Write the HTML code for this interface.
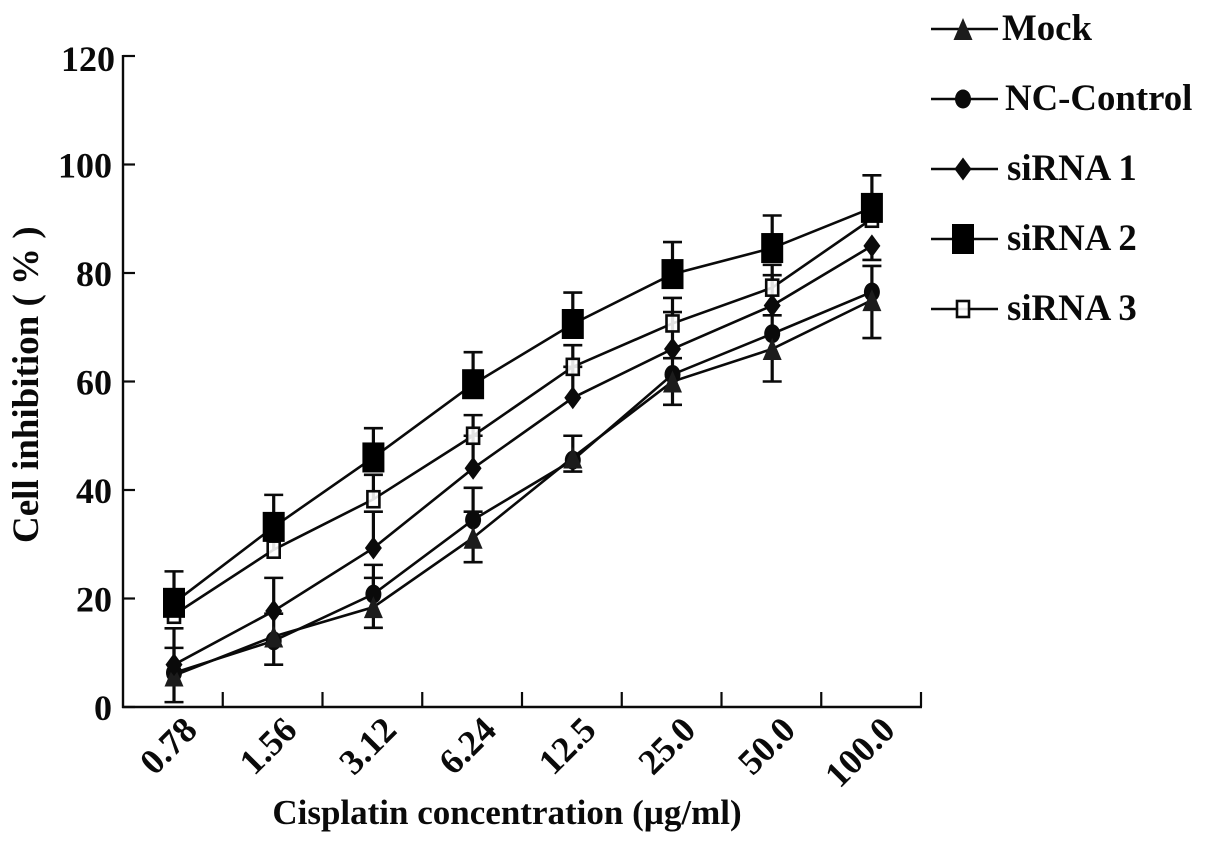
<!DOCTYPE html>
<html lang="en"><head><meta charset="utf-8"><title>Cell inhibition vs cisplatin concentration</title>
<style>
html,body{margin:0;padding:0;background:#fff}
svg{display:block}
text{font-family:"Liberation Serif",serif;font-weight:bold;fill:#0a0a0a}
</style></head>
<body>
<svg id="chart" xmlns="http://www.w3.org/2000/svg" width="1205" height="843" viewBox="0 0 1205 843">
<text transform="translate(38,543) rotate(-90)" text-anchor="start" font-size="37">Cell inhibition ( % )</text>
<text x="507" y="824" text-anchor="middle" font-size="35">Cisplatin concentration (µg/ml)</text>
</svg>
<script>
const categories = ['0.78','1.56','3.12','6.24','12.5','25.0','50.0','100.0'];
const yTickValues = [0,20,40,60,80,100,120];
const seriesNames = ['Mock','NC-Control','siRNA 1','siRNA 3','siRNA 2'];
const mockValues = [5.8,13,18.4,31.2,46,60,66,75];
const mockErrUp = [0,0,5.4,4.8,0,0,0,0];
const mockErrDown = [4.9,5.2,3.8,4.5,2.6,4.3,6,7];
const ncValues = [6.3,12.2,20.8,34.5,45.5,61.3,68.8,76.5];
const ncErrUp = [4.6,5,5.4,5.9,4.5,3,3.4,4.8];
const ncErrDown = [0,0,0,0,0,0,0,0];
const si1Values = [7.8,17.7,29.3,44,57,66,74,85];
const si1ErrUp = [6.7,6.1,6.7,6,5.7,6.8,5.6,0];
const si1ErrDown = [0,0,0,0,0,0,0,2.6];
const si3Values = [17,29,38.3,50,62.7,70.7,77.3,90];
const si3ErrUp = [2,2,4.5,3.8,4,4.7,4.2,2];
const si3ErrDown = [0,0,0,0,0,0,0,0];
const si2Values = [19.2,33.2,46,59.5,70.6,79.8,84.6,92];
const si2ErrUp = [5.8,5.9,5.4,5.9,5.8,5.9,6,6];
const si2ErrDown = [0,0,0,0,0,0,0,0];

const svg = document.getElementById('chart');
const NS = 'http://www.w3.org/2000/svg';
const INK = '#0a0a0a';
const axisLeft = 123, axisRight = 921, axisBottom = 707;
function xScale(i){ return 174 + i * 99.7; }
function yScale(v){ return axisBottom - v * 5.425; }
function make(tag, attrs, name){
  const el = document.createElementNS(NS, tag);
  for (const k in attrs) el.setAttribute(k, attrs[k]);
  
  
  svg.appendChild(el);
  return el;
}
function line(x1,y1,x2,y2,w,name){
  return make('line',{x1:x1,y1:y1,x2:x2,y2:y2,stroke:INK,'stroke-width':w},name);
}
function marker(kind,x,y,name){
  if (kind==='triangle') return make('path',{d:`M${x} ${y-11}L${x+9.5} ${y+11}H${x-9.5}Z`,fill:'#1c1c1c'},name);
  if (kind==='circle') return make('ellipse',{cx:x,cy:y,rx:8,ry:9.5,fill:INK},name);
  if (kind==='diamond') return make('path',{d:`M${x} ${y-11.5}L${x+8.5} ${y}L${x} ${y+11.5}L${x-8.5} ${y}Z`,fill:INK},name);
  if (kind==='square') return make('rect',{x:x-11,y:y-15,width:22,height:30,fill:'#000'},name);
  return make('rect',{x:x-6,y:y-8,width:12,height:16,fill:'#fff','fill-opacity':0.88,stroke:INK,'stroke-width':2.6},name);
}

line(axisLeft,55,axisLeft,axisBottom+1,2.4,'y-axis-line');
line(axisLeft-1,axisBottom,axisRight+1,axisBottom,2.4,'x-axis-line');
yTickValues.forEach(function(v){
  line(axisLeft,yScale(v),135,yScale(v),2.2,'y-tick-'+v);
  const t = make('text',{x:v===120?115:112,y:yScale(v)+(v===120?15:13),'text-anchor':'end','font-size':36},'y-tick-label-'+v);
  t.textContent = v;
});
categories.forEach(function(c,i){
  const tx = axisLeft + (i+1)*99.75;
  line(tx,axisBottom,tx,692,2.2,'x-tick-'+(i+1));
  const lx = xScale(i)+25, ly = 732;
  const t = make('text',{x:lx,y:ly,'text-anchor':'end','font-size':36,transform:`rotate(-45 ${lx} ${ly})`},'x-tick-label-'+c);
  t.textContent = c;
});

const seriesList = [
  {key:'nc-control',kind:'circle',vals:ncValues,up:ncErrUp,down:ncErrDown},
  {key:'mock',kind:'triangle',vals:mockValues,up:mockErrUp,down:mockErrDown},
  {key:'sirna-1',kind:'diamond',vals:si1Values,up:si1ErrUp,down:si1ErrDown},
  {key:'sirna-3',kind:'open',vals:si3Values,up:si3ErrUp,down:si3ErrDown},
  {key:'sirna-2',kind:'square',vals:si2Values,up:si2ErrUp,down:si2ErrDown}
];
seriesList.forEach(function(s){
  const pts = s.vals.map(function(v,i){ return xScale(i)+','+yScale(v); }).join(' ');
  make('polyline',{points:pts,fill:'none',stroke:INK,'stroke-width':2.6},s.key+'-line');
  s.vals.forEach(function(v,i){
    const x = xScale(i);
    const top = v + s.up[i], bot = v - s.down[i];
    if (s.up[i] > 0) {
      line(x,yScale(v),x,yScale(top),3.2,s.key+'-error-up-'+i);
      line(x-9.5,yScale(top),x+9.5,yScale(top),2.6,s.key+'-error-cap-up-'+i);
    }
    if (s.down[i] > 0) {
      line(x,yScale(v),x,yScale(bot),3.2,s.key+'-error-down-'+i);
      line(x-9.5,yScale(bot),x+9.5,yScale(bot),2.6,s.key+'-error-cap-down-'+i);
    }
  });
});
seriesList.forEach(function(s){
  s.vals.forEach(function(v,i){ marker(s.kind,xScale(i),yScale(v),s.key+'-point-'+i); });
});

const legendRows = [
  {label:seriesNames[0],kind:'triangle',y:29,tx:1002},
  {label:seriesNames[1],kind:'circle',y:99,tx:1005},
  {label:seriesNames[2],kind:'diamond',y:169,tx:1007},
  {label:seriesNames[4],kind:'square',y:239,tx:1007},
  {label:seriesNames[3],kind:'open',y:309,tx:1007}
];
legendRows.forEach(function(r){
  const id = r.label.toLowerCase().replace(/[^a-z0-9]+/g,'-');
  line(931,r.y,998,r.y,2.6,'legend-line-'+id);
  marker(r.kind,963,r.y,'legend-marker-'+id);
  const t = make('text',{x:r.tx,y:r.y+11,'font-size':36.8},'legend-label-'+id);
  t.textContent = r.label;
});
</script>
</body></html>
